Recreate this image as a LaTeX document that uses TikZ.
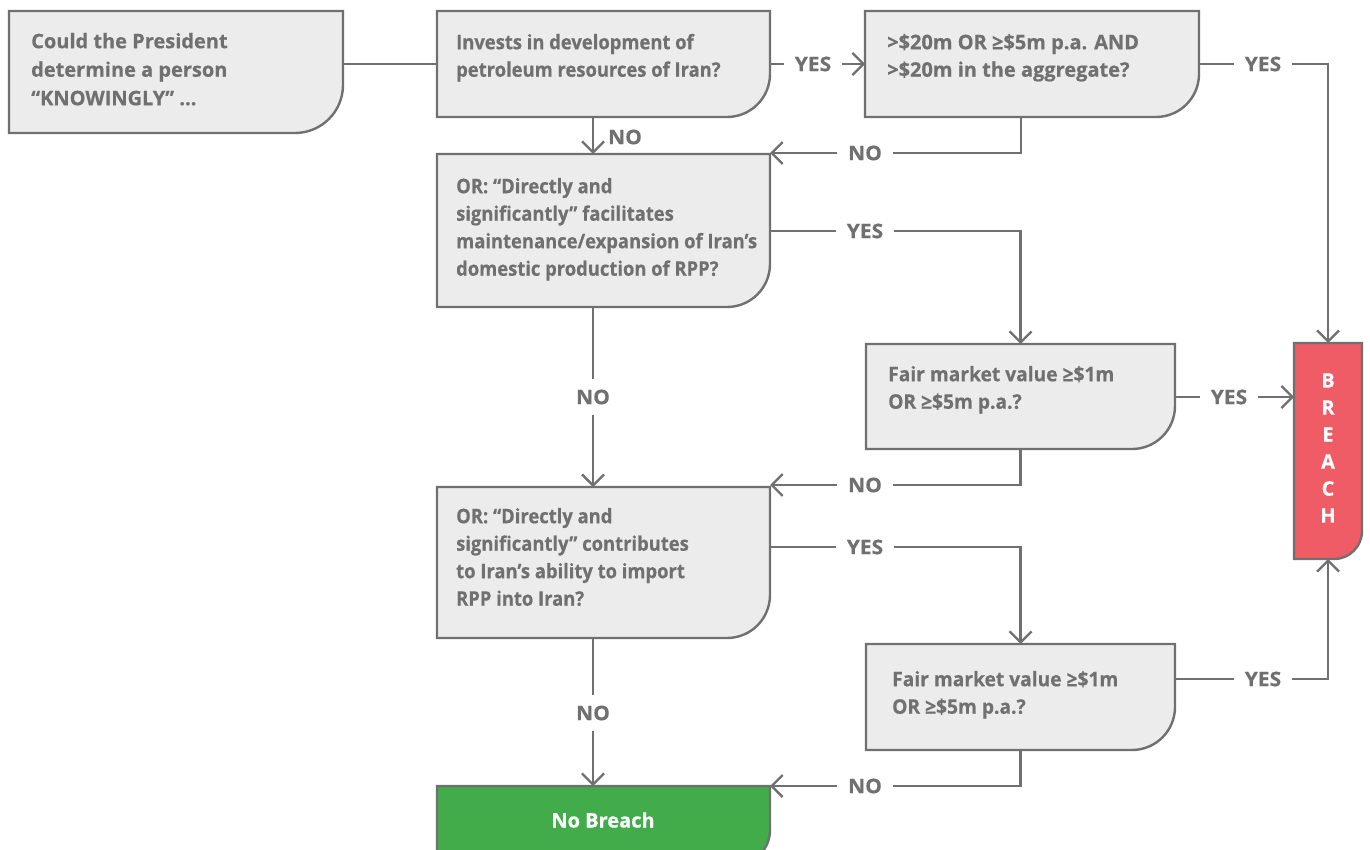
\documentclass[tikz,border=0pt]{standalone}
\usepackage{fontspec}
\setmainfont[FakeStretch=0.92,BoldFeatures={FakeBold=0.5}]{Open Sans}
\newfontfamily\fwide[BoldFeatures={FakeBold=0.5}]{Open Sans}
\newfontfamily\fmid[FakeStretch=0.96,BoldFeatures={FakeBold=0.5}]{Open Sans}
\newfontfamily\flab[FakeStretch=1.05,BoldFeatures={FakeBold=0.5}]{Open Sans}
\usetikzlibrary{arrows.meta,calc}
\definecolor{lg}{HTML}{707070}
\definecolor{bxfill}{HTML}{ECECEC}
\definecolor{brred}{HTML}{F05C65}
\definecolor{nbgreen}{HTML}{42AC4A}
\newcommand\fs{\rule{0pt}{16pt}}
\newcommand\qbox[7]{%
  \filldraw[boxline, fill=#7] (#2,#3) -- (#4,#3) -- (#4,#5-#6) arc[start angle=0,end angle=-90,radius=#6pt] -- (#2,#5) -- cycle;
  \path (#2,#3) -- (#4,#5) node[midway, inner sep=0pt, outer sep=0pt, minimum width={(#4-#2)*1pt}, minimum height={(#5-#3)*1pt}] (#1) {};
}
\tikzset{
  boxline/.style={draw=lg, line width=2.4pt},
  conn/.style={draw=lg, line width=2.3pt},
  arr/.style={conn, -{Straight Barb[length=11pt,width=22pt]}},
  lbl/.style={font=\flab\bfseries\fontsize{20}{24}\selectfont, text=lg, inner xsep=11pt, inner ysep=10pt},
  qtext/.style={font=\bfseries\fontsize{20}{27.5}\selectfont, text=lg, align=left, anchor=north west, inner sep=0pt},
}
\begin{document}
\begin{tikzpicture}[x=1pt,y=-1pt]
\useasboundingbox (0,0) rectangle (1370,849);
\clip (0,0) rectangle (1370,849);
\fill[white] (0,0) rectangle (1370,849);
% column coordinates
\coordinate (cA) at (593,0);
\coordinate (cB) at (1021,0);
% boxes
\qbox{b1}{9}{11}{343}{133}{48}{bxfill}
\qbox{b2}{437}{11}{770}{117}{43}{bxfill}
\qbox{b3}{865}{11}{1199}{117}{43}{bxfill}
\qbox{b4}{437}{154}{770}{307}{43}{bxfill}
\qbox{b5}{866}{344}{1175}{449}{43}{bxfill}
\qbox{b6}{437}{487}{770}{638}{43}{bxfill}
\qbox{b7}{866}{644}{1175}{750}{43}{bxfill}
\qbox{nb}{437}{786}{770}{865}{35}{nbgreen}
\qbox{br}{1294}{343}{1362}{559}{28}{brred}
% texts
\node[qtext, font=\fwide\bfseries\fontsize{20}{28.5}\selectfont] (t1) at (31,48-16) {\fs Could the President\\determine a person\\“KNOWINGLY” …};
\node[qtext] (t2) at (456,49-16) {\fs Invests in development of\\petroleum resources of Iran?};
\node[qtext, font=\fwide\bfseries\fontsize{20}{27.5}\selectfont] (t3) at (887,49-16) {\fs >\$20m OR ≥\$5m p.a. AND\\>\$20m in the aggregate?};
\node[qtext] (t4) at (456,193-16) {\fs OR: “Directly and\\significantly” facilitates\\maintenance/expansion of Iran’s\\domestic production of RPP?};
\node[qtext, font=\fmid\bfseries\fontsize{20}{27.5}\selectfont] (t5) at (888,381-16) {\fs Fair market value ≥\$1m\\OR ≥\$5m p.a.?};
\node[qtext] (t6) at (456,523-16) {\fs OR: “Directly and\\significantly” contributes\\to Iran’s ability to import\\RPP into Iran?};
\node[qtext, font=\fmid\bfseries\fontsize{20}{27.5}\selectfont] (t7) at (892,686-16) {\fs Fair market value ≥\$1m\\OR ≥\$5m p.a.?};
\node[font=\fwide\bfseries\fontsize{20}{24}\selectfont, text=white] (tnb) at (603,820) {No Breach};
\node[font=\fwide\bfseries\fontsize{20}{27}\selectfont, text=white, align=center] (tbr) at (1328,448) {B\\R\\E\\A\\C\\H};
% labels
\node[lbl] (y1) at (813,64) {YES};
\node[lbl] (n1) at (625,137) {NO};
\node[lbl] (n2) at (865,153) {NO};
\node[lbl] (y2) at (1263,64) {YES};
\node[lbl] (y3) at (865,231) {YES};
\node[lbl] (n3) at (593,397) {NO};
\node[lbl] (y4) at (1229,397) {YES};
\node[lbl] (n4) at (865,485) {NO};
\node[lbl] (y5) at (865,547) {YES};
\node[lbl] (n5) at (593,713) {NO};
\node[lbl] (y6) at (1263,679) {YES};
\node[lbl] (n6) at (865,786) {NO};
% connectors
\draw[conn] (b2.west -| b1.east) -- (b2.west);
\draw[conn] (b2.east) -- (y1.west);
\draw[arr] (y1.east) -- (b3.west);
\draw[arr] (b2.south -| cA) -- (b4.north -| cA);
\draw[conn] (b3.south -| cB) |- (n2.east);
\draw[arr] (n2.west) -- (n2.west -| b4.east);
\draw[conn] (b3.east) -- (y2.west);
\draw[arr] (y2.east) -| (br.north);
\draw[conn] (y3.west -| b4.east) -- (y3.west);
\draw[arr] (y3.east) -| (b5.north);
\draw[conn] (b4.south -| cA) -- (n3.north);
\draw[arr] (n3.south) -- (b6.north -| cA);
\draw[conn] (y4.west -| b5.east) -- (y4.west);
\draw[arr] (y4.east) -- (y4.east -| br.west);
\draw[conn] (b5.south) |- (n4.east);
\draw[arr] (n4.west) -- (n4.west -| b6.east);
\draw[conn] (y5.west -| b6.east) -- (y5.west);
\draw[arr] (y5.east) -| (b7.north);
\draw[conn] (b6.south -| cA) -- (n5.north);
\draw[arr] (n5.south) -- (nb.north -| cA);
\draw[conn] (y6.west -| b7.east) -- (y6.west);
\draw[arr] (y6.east) -| (br.south);
\draw[conn] (b7.south) |- (n6.east);
\draw[arr] (n6.west) -- (n6.west -| nb.east);
\end{tikzpicture}
\end{document}
